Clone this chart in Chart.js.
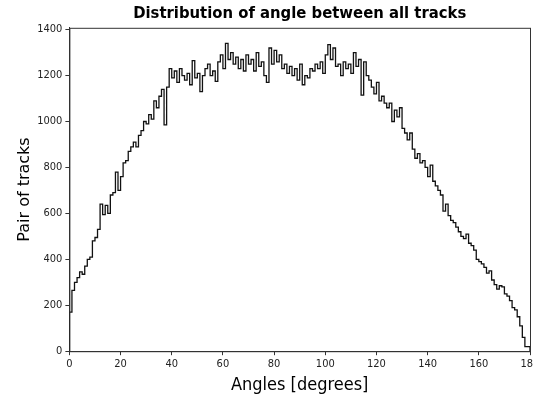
<!DOCTYPE html>
<html>
<head>
<meta charset="utf-8">
<script src="https://cdn.jsdelivr.net/npm/chart.js@4"></script>
<style>
  body { margin: 0; background: #fff; }
</style>
</head>
<body>
<canvas id="histChart" width="533" height="396"></canvas>
<script>
// bin left edges, 1 degree wide
const binEdges = Array.from({ length: 181 }, (_, i) => i)
// counts per bin
const counts = [
  75, 170, 265, 300, 320, 345, 335, 370, 400, 410,
  480, 495, 530, 640, 595, 635, 600, 680, 690, 780,
  700, 760, 820, 830, 870, 890, 910, 890, 940, 960,
  1000, 990, 1030, 1010, 1090, 1060, 1110, 1140, 985, 1150,
  1230, 1190, 1220, 1170, 1230, 1200, 1180, 1210, 1160, 1265,
  1190, 1210, 1130, 1200, 1230, 1250, 1200, 1220, 1175, 1260,
  1290, 1230, 1340, 1270, 1300, 1250, 1280, 1230, 1270, 1220,
  1290, 1250, 1270, 1220, 1300, 1240, 1260, 1200, 1170, 1320,
  1250, 1310, 1260, 1290, 1230, 1250, 1210, 1240, 1200, 1230,
  1180, 1250, 1160, 1200, 1190, 1230, 1220, 1250, 1230, 1260,
  1210, 1290, 1335, 1270, 1320, 1240, 1250, 1200, 1260, 1230,
  1250, 1210, 1300, 1240, 1270, 1115, 1260, 1200, 1180, 1150,
  1120, 1170, 1090, 1110, 1080, 1060, 1080, 1000, 1050, 1020,
  1060, 970, 950, 920, 950, 880, 840, 860, 820, 830,
  800, 760, 810, 740, 720, 700, 680, 610, 640, 590,
  570, 560, 540, 520, 500, 490, 510, 470, 460, 440,
  400, 390, 380, 365, 340, 350, 310, 290, 270, 285,
  280, 250, 240, 220, 190, 180, 150, 110, 60, 20
]
const xTicks = [0, 20, 40, 60, 80, 100, 120, 140, 160, 180]
const yTicks = [0, 200, 400, 600, 800, 1000, 1200, 1400]

// step outline like matplotlib histtype='step'
const stepPoints = [{ x: 0, y: 0 }]
counts.forEach((c, i) => stepPoints.push({ x: binEdges[i], y: c }))
stepPoints.push({ x: binEdges[180], y: counts[counts.length - 1] })
stepPoints.push({ x: binEdges[180], y: 0 })

// box round the plot area
const frame = {
  id: 'frame',
  afterDraw(chart) {
    const { ctx, chartArea: a } = chart
    ctx.save()
    ctx.strokeStyle = '#333'
    ctx.lineWidth = 1
    ctx.strokeRect(a.left + 0.5, a.top + 0.5, a.right - a.left, a.bottom - a.top)
    ctx.restore()
  }
}

const tickFont = { family: 'DejaVu Sans Condensed', size: 11 }

new Chart(document.getElementById('histChart'), {
  type: 'line',
  data: {
    datasets: [{
      data: stepPoints,
      stepped: 'after',
      borderColor: '#111',
      borderWidth: 1.3,
      pointRadius: 0,
      fill: false
    }]
  },
  options: {
    responsive: false,
    animation: false,
    layout: { padding: { left: 15, right: 3, top: 4, bottom: 0 } },
    plugins: {
      legend: { display: false },
      tooltip: { enabled: false },
      title: {
        display: true,
        fullSize: false,
        text: 'Distribution of angle between all tracks',
        color: '#000',
        font: { family: 'DejaVu Sans Condensed', size: 16.5, weight: 'bold' },
        padding: { top: 0, bottom: 4 }
      }
    },
    scales: {
      x: {
        type: 'linear',
        min: 0,
        max: 180,
        afterBuildTicks: ax => { ax.ticks = xTicks.map(v => ({ value: v })) },
        afterFit: ax => { ax.paddingRight = 0 },
        grid: { drawOnChartArea: false, drawTicks: true, tickLength: 4, color: '#333' },
        border: { color: '#333' },
        ticks: { color: '#222', font: tickFont, maxRotation: 0, padding: 2, callback: v => String(v) },
        title: {
          display: true,
          text: 'Angles [degrees]',
          color: '#000',
          font: { family: 'DejaVu Sans Condensed', size: 18 },
          padding: { top: 2, bottom: 0 }
        }
      },
      y: {
        min: 0,
        max: 1408,
        afterBuildTicks: ax => { ax.ticks = yTicks.map(v => ({ value: v })) },
        grid: { drawOnChartArea: false, drawTicks: true, tickLength: 4, color: '#333' },
        border: { color: '#333' },
        ticks: { color: '#222', font: tickFont, padding: 3, callback: v => String(v) },
        title: {
          display: true,
          text: 'Pair of tracks',
          color: '#000',
          font: { family: 'DejaVu Sans', size: 16 },
          padding: { top: 0, bottom: 0 }
        }
      }
    }
  },
  plugins: [frame]
})
</script>
</body>
</html>
